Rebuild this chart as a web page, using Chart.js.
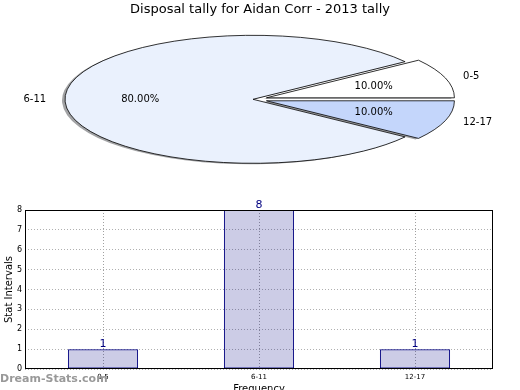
<!DOCTYPE html>
<html>
<head>
<meta charset="utf-8">
<script src="https://cdn.jsdelivr.net/npm/chart.js@4.4.0/dist/chart.umd.min.js"></script>
<style>
  body { margin: 0; width: 520px; height: 390px; background: #fff; position: relative; overflow: hidden; }
  #pie { position: absolute; left: 0; top: 0; }
  #bars { position: absolute; left: 0; top: 190px; }
  #mark { position: absolute; left: 0; top: 372px; font: bold 11px "DejaVu Sans", sans-serif; color: #999; }
</style>
</head>
<body>
<canvas id="pie" width="520" height="180"></canvas>
<canvas id="bars" width="520" height="200"></canvas>
<div id="mark">Dream-Stats.com</div>
<script>
const categories = ['0-5', '6-11', '12-17'];
const tally = [1, 8, 1];
const yTicks = [0, 1, 2, 3, 4, 5, 6, 7, 8];

const sliceColors = ['#ffffff', '#eaf1fd', '#c4d6fb'];
const explode = [0.075, 0, 0.075];

Chart.defaults.font.family = '"DejaVu Sans", sans-serif';
Chart.defaults.color = '#000';

// pie is drawn round by Chart.js, then stretched sideways into an ellipse
const R = 64;
const SX = 188 / 64;
const SHIFT = -7;

function squash(ctx, cx, cy) {
  ctx.translate(cx + SHIFT, cy);
  ctx.scale(SX, -1);
  ctx.translate(-cx, -cy);
}
function toScreen(arc, x, y) {
  return [arc.x + SHIFT + SX * (x - arc.x), arc.y - (y - arc.y)];
}
function wedge(ctx, arc, i) {
  const mid = (arc.startAngle + arc.endAngle) / 2;
  const e = explode[i] * arc.outerRadius;
  const x = arc.x + Math.cos(mid) * e, y = arc.y + Math.sin(mid) * e;
  ctx.save();
  squash(ctx, arc.x, arc.y);
  ctx.beginPath();
  ctx.moveTo(x, y);
  ctx.arc(x, y, arc.outerRadius, arc.startAngle, arc.endAngle);
  ctx.closePath();
  ctx.restore();
}

const total = tally.reduce((a, b) => a + b, 0);

const pieLook = {
  id: 'pieLook',
  afterUpdate(chart) {
    const draw = Chart.ArcElement.prototype.draw;
    chart.getDatasetMeta(0).data.forEach((arc, i) => {
      arc.draw = function (ctx) {
        const mid = (this.startAngle + this.endAngle) / 2;
        const e = explode[i] * this.outerRadius;
        ctx.save();
        ctx.translate(Math.cos(mid) * e, Math.sin(mid) * e);
        draw.call(this, ctx);
        ctx.restore();
      };
    });
  },
  beforeDatasetsDraw(chart) {
    const ctx = chart.ctx;
    const arcs = chart.getDatasetMeta(0).data;
    ctx.save();
    ctx.translate(-3, 1);
    ctx.fillStyle = 'rgba(70,72,76,0.5)';
    arcs.forEach((arc, i) => { wedge(ctx, arc, i); ctx.fill(); });
    ctx.restore();
    ctx.save();
    squash(ctx, arcs[0].x, arcs[0].y);
  },
  afterDatasetsDraw(chart) {
    const ctx = chart.ctx;
    ctx.restore();
    const arcs = chart.getDatasetMeta(0).data;
    ctx.save();
    ctx.strokeStyle = '#000';
    ctx.lineWidth = 0.8;
    arcs.forEach((arc, i) => { wedge(ctx, arc, i); ctx.stroke(); });
    ctx.fillStyle = '#000';
    ctx.font = '10px "DejaVu Sans"';
    ctx.textBaseline = 'middle';
    arcs.forEach((arc, i) => {
      const mid = (arc.startAngle + arc.endAngle) / 2;
      const e = explode[i] * arc.outerRadius;
      const r = arc.outerRadius;
      const ex = arc.x + Math.cos(mid) * e, ey = arc.y + Math.sin(mid) * e;
      const [lx, ly] = toScreen(arc, ex + Math.cos(mid) * r * 1.1, ey + Math.sin(mid) * r * 1.1);
      ctx.textAlign = Math.cos(mid) > 0 ? 'left' : 'right';
      ctx.fillText(categories[i], lx, ly);
      const [px, py] = toScreen(arc, ex + Math.cos(mid) * r * 0.6, ey + Math.sin(mid) * r * 0.6);
      ctx.textAlign = 'center';
      ctx.fillText((tally[i] / total * 100).toFixed(2) + '%', px, py);
    });
    ctx.restore();
  }
};

new Chart(document.getElementById('pie'), {
  type: 'pie',
  data: {
    labels: categories,
    datasets: [{
      data: tally,
      backgroundColor: sliceColors,
      borderWidth: 0,
      clip: false
    }]
  },
  options: {
    responsive: false,
    animation: false,
    radius: R,
    rotation: 90,
    events: [],
    plugins: {
      legend: { display: false },
      tooltip: { enabled: false },
      title: {
        display: true,
        text: 'Disposal tally for Aidan Corr - 2013 tally',
        font: { size: 13, weight: 'normal' },
        color: '#000',
        padding: { top: 2, bottom: 1 }
      }
    }
  },
  plugins: [pieLook]
});

const barLook = {
  id: 'barLook',
  afterDatasetsDraw(chart) {
    const ctx = chart.ctx;
    const a = chart.chartArea;
    ctx.save();
    ctx.strokeStyle = '#000';
    ctx.lineWidth = 1;
    ctx.strokeRect(Math.round(a.left) + 0.5, Math.round(a.top) + 0.5,
      Math.round(a.right - a.left) - 1, Math.round(a.bottom - a.top) - 1);
    ctx.fillStyle = '#000080';
    ctx.font = '11px "DejaVu Sans"';
    ctx.textAlign = 'center';
    ctx.textBaseline = 'bottom';
    chart.getDatasetMeta(0).data.forEach((bar, i) => {
      ctx.fillText(String(tally[i]), bar.x, bar.y + 1);
    });
    ctx.restore();
  }
};

new Chart(document.getElementById('bars'), {
  type: 'bar',
  data: {
    labels: categories,
    datasets: [{
      data: tally,
      backgroundColor: 'rgba(0,0,128,0.2)',
      borderColor: '#000080',
      borderWidth: 1,
      borderSkipped: false,
      barPercentage: 0.45,
      categoryPercentage: 1
    }]
  },
  options: {
    responsive: false,
    animation: false,
    events: [],
    layout: { padding: { top: 20, right: 27, left: 0, bottom: 0 } },
    plugins: { legend: { display: false }, tooltip: { enabled: false } },
    scales: {
      x: {
        grid: { offset: false, color: '#a0a0a0', drawTicks: false },
        border: { display: false, dash: [1, 2] },
        ticks: { font: { size: 7 }, padding: 4, maxRotation: 0 },
        title: { display: true, text: 'Frequency', font: { size: 10 }, padding: { top: 0, bottom: -5 } },
        afterFit(s) { s.height = 21; }
      },
      y: {
        min: 0,
        max: 8,
        grid: { color: '#b0b0b0', drawTicks: false },
        border: { display: false, dash: [1, 2] },
        ticks: { font: { size: 8 }, padding: 3 },
        afterBuildTicks(s) { s.ticks = yTicks.map(v => ({ value: v })); },
        title: { display: true, text: 'Stat Intervals', font: { size: 10 }, padding: { top: 3, bottom: 0 } },
        afterFit(s) { s.width = 25; }
      }
    }
  },
  plugins: [barLook]
});
</script>
</body>
</html>
